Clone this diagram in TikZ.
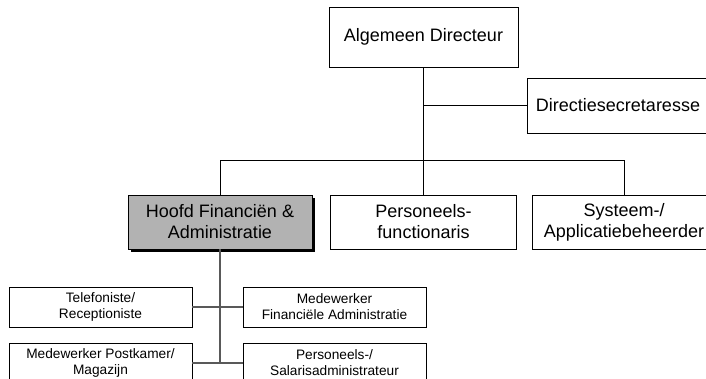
\documentclass[tikz,border=0pt]{standalone}
\usepackage{fontspec}
\setmainfont{Liberation Sans}
\usetikzlibrary{shadows}
\begin{document}
\begin{tikzpicture}[x=1pt,y=-1pt,
  big/.style={draw=black, line width=0.7pt, fill=white, align=center,
    font=\fontsize{18}{21}\selectfont, inner sep=0pt},
  small/.style={draw=black, line width=0.7pt, fill=white, align=center,
    font=\fontsize{13.7}{16}\selectfont, inner sep=0pt,
    minimum width=183pt, minimum height=40pt},
  upper/.style={draw=black, line width=0.7pt},
  lower/.style={draw=black!65, line width=1.1pt}]
\clip (0,0) rectangle (706,379);
\fill[white] (0,0) rectangle (706,379);

% management row
\node[big, minimum width=189pt, minimum height=60pt] (ad) at (423.5,37) {Algemeen Directeur};
\node[big, minimum width=182pt, minimum height=55pt] (ds) at (618,105.5) {Directiesecretaresse};

% department heads
\node[big, fill=gray!60, minimum width=184pt, minimum height=54pt,
  drop shadow={shadow xshift=3pt, shadow yshift=-3pt, fill=black, opacity=1}]
  (hf) at (220,222) {Hoofd Financi\"en \&\\Administratie};
\node[big, minimum width=186pt, minimum height=54pt] (pf) at (423.5,222) {Personeels-\\functionaris};
\node[big, minimum width=184pt, minimum height=54pt] (sb) at (624,222) {Systeem-/\\Applicatiebeheerder};

% staff of the finance department
\node[small] (tr) at (100.5,307) {Telefoniste/\\Receptioniste};
\node[small] (mf) at (334.5,307) {Medewerker\\Financi\"ele Administratie};
\node[small] (mp) at (100.5,363) {Medewerker Postkamer/\\Magazijn};
\node[small] (ps) at (334.5,363) {Personeels-/\\Salarisadministrateur};

% connectors
\coordinate (bus) at (0,160);
\draw[upper] (ad.south) -- (ad.south |- bus);
\draw[upper] (ad.south |- ds.west) -- (ds.west);
\draw[upper] (hf.north) -- (hf.north |- bus) -- (sb.north |- bus) -- (sb.north);
\draw[upper] (pf.north) -- (pf.north |- bus);
\draw[lower] (hf.south) -- (hf.south |- mp.east);
\draw[lower] (tr.east) -- (mf.west);
\draw[lower] (mp.east) -- (ps.west);
\end{tikzpicture}
\end{document}
